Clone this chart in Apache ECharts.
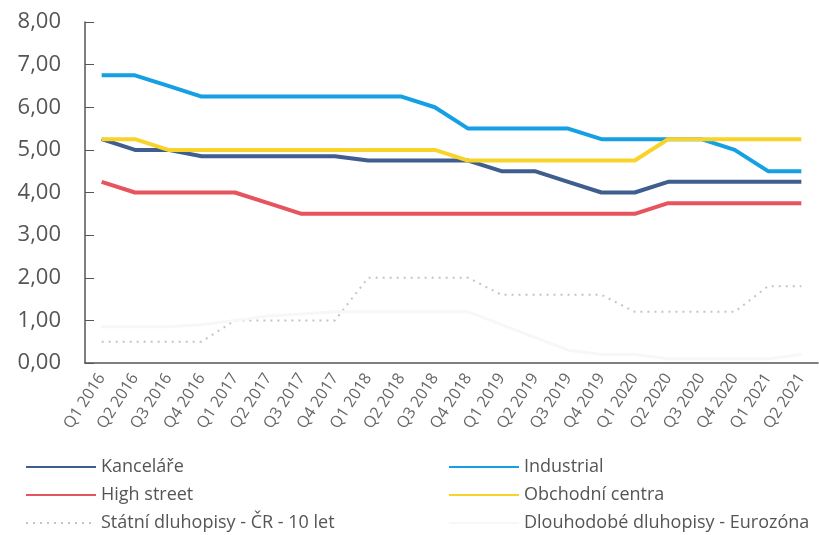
<!DOCTYPE html>
<html>
<head>
<meta charset="utf-8">
<script src="https://cdn.jsdelivr.net/npm/echarts@6/dist/echarts.min.js"></script>
<style>
html,body{margin:0;padding:0;background:#fff;}
#chart{width:819px;height:535px;}
</style>
</head>
<body>
<div id="chart"></div>
<script>
const categories = ['Q1 2016','Q2 2016','Q3 2016','Q4 2016','Q1 2017','Q2 2017','Q3 2017','Q4 2017','Q1 2018','Q2 2018','Q3 2018','Q4 2018','Q1 2019','Q2 2019','Q3 2019','Q4 2019','Q1 2020','Q2 2020','Q3 2020','Q4 2020','Q1 2021','Q2 2021'];
const kancelare = [5.25,5.0,5.0,4.85,4.85,4.85,4.85,4.85,4.75,4.75,4.75,4.75,4.5,4.5,4.25,4.0,4.0,4.25,4.25,4.25,4.25,4.25];
const industrial = [6.75,6.75,6.5,6.25,6.25,6.25,6.25,6.25,6.25,6.25,6.0,5.5,5.5,5.5,5.5,5.25,5.25,5.25,5.25,5.0,4.5,4.5];
const highStreet = [4.25,4.0,4.0,4.0,4.0,3.75,3.5,3.5,3.5,3.5,3.5,3.5,3.5,3.5,3.5,3.5,3.5,3.75,3.75,3.75,3.75,3.75];
const obchodniCentra = [5.25,5.25,5.0,5.0,5.0,5.0,5.0,5.0,5.0,5.0,5.0,4.75,4.75,4.75,4.75,4.75,4.75,5.25,5.25,5.25,5.25,5.25];
const statniDluhopisy = [0.5,0.5,0.5,0.5,1.0,1.0,1.0,1.0,2.0,2.0,2.0,2.0,1.6,1.6,1.6,1.6,1.2,1.2,1.2,1.2,1.8,1.8];
const eurozona = [0.85,0.85,0.85,0.9,1.0,1.1,1.15,1.2,1.2,1.2,1.2,1.2,0.9,0.6,0.3,0.2,0.2,0.1,0.1,0.1,0.1,0.2];
const yTicks = [0,1,2,3,4,5,6,7,8];

const chart = echarts.init(document.getElementById('chart'));
const font = '"Open Sans", "Noto Sans", sans-serif';
function mk(name, data, color, extra) {
  return Object.assign({
    name: name, type: 'line', data: data, symbol: 'none', smooth: false,
    lineStyle: { color: color, width: 4 }, itemStyle: { color: color }
  }, extra || {});
}
const legendBase = {
  orient: 'vertical', top: 453, height: 90, itemWidth: 70, itemHeight: 14, itemGap: 10,
  itemStyle: { opacity: 0 },
  textStyle: { fontFamily: font, fontSize: 18, color: '#555' }
};
chart.setOption({
  animation: false,
  backgroundColor: '#fff',
  grid: { left: 85, right: 1, top: 22, bottom: 172, containLabel: false },
  legend: [
    Object.assign({ left: 20, data: ['Kanceláře','High street','Státní dluhopisy - ČR - 10 let'] }, legendBase),
    Object.assign({ left: 443, data: ['Industrial','Obchodní centra','Dlouhodobé dluhopisy - Eurozóna'] }, legendBase)
  ],
  xAxis: {
    type: 'category', data: categories, boundaryGap: true,
    axisLine: { lineStyle: { color: '#555', width: 1.5 } },
    axisTick: { inside: true, length: 5, lineStyle: { color: '#555' } },
    axisLabel: { rotate: 57, fontFamily: font, fontSize: 16, color: '#666', margin: 12, interval: 0 }
  },
  yAxis: {
    type: 'value', min: 0, max: 8, interval: 1,
    axisLine: { show: true, lineStyle: { color: '#555', width: 1.5 } },
    axisTick: { show: true, inside: true, length: 9, lineStyle: { color: '#555' } },
    splitLine: { show: false },
    axisLabel: {
      fontFamily: font, fontSize: 22, color: '#555', margin: 24,
      formatter: v => yTicks.includes(v) ? v.toFixed(2).replace('.', ',') : ''
    }
  },
  series: [
    mk('Kanceláře', kancelare, '#3f5d8e'),
    mk('Industrial', industrial, '#15a0e3'),
    mk('High street', highStreet, '#e6545e'),
    mk('Obchodní centra', obchodniCentra, '#f8d42a'),
    mk('Státní dluhopisy - ČR - 10 let', statniDluhopisy, '#c4c4c4', { lineStyle: { color: '#c4c4c4', width: 2, type: [2, 5] } }),
    mk('Dlouhodobé dluhopisy - Eurozóna', eurozona, '#f7f7f7', { lineStyle: { color: '#f7f7f7', width: 3 } })
  ]
});
</script>
</body>
</html>
